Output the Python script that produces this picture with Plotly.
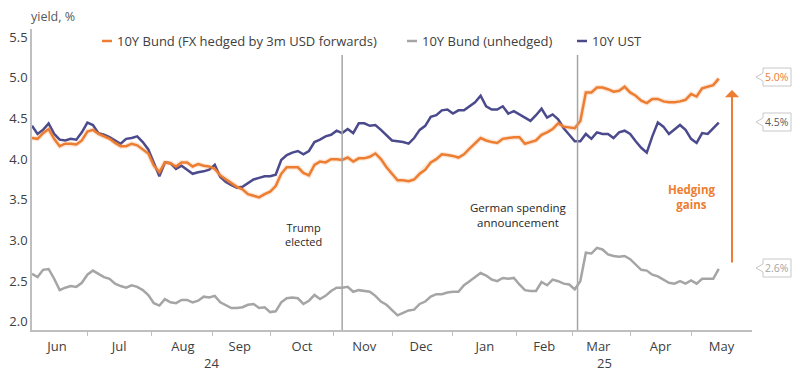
import pandas as pd
import plotly.graph_objects as go

# ---- data (every 2nd business day) ----
bund_hedged = [
    4.26, 4.25, 4.32, 4.37, 4.25, 4.16, 4.19, 4.19, 4.18, 4.23,
    4.34, 4.36, 4.31, 4.28, 4.25, 4.20, 4.16, 4.16, 4.19, 4.17,
    4.12, 4.07, 3.92, 3.84, 3.96, 3.95, 3.91, 3.96, 3.96, 3.91,
    3.94, 3.92, 3.91, 3.88, 3.80, 3.75, 3.70, 3.66, 3.63, 3.57,
    3.55, 3.53, 3.57, 3.60, 3.67, 3.82, 3.90, 3.90, 3.90, 3.83,
    3.80, 3.93, 3.97, 3.96, 4.00, 4.00, 3.99, 4.02, 3.97, 4.01,
    4.01, 4.03, 4.07, 4.00, 3.90, 3.82, 3.74, 3.74, 3.73, 3.75,
    3.82, 3.87, 3.96, 4.00, 4.06, 4.05, 4.04, 4.02, 4.06, 4.13,
    4.19, 4.26, 4.23, 4.21, 4.20, 4.25, 4.26, 4.27, 4.27, 4.19,
    4.21, 4.23, 4.30, 4.33, 4.37, 4.44, 4.40, 4.39, 4.38, 4.47,
    4.82, 4.82, 4.88, 4.88, 4.86, 4.83, 4.84, 4.89, 4.82, 4.78,
    4.72, 4.69, 4.74, 4.74, 4.71, 4.70, 4.70, 4.71, 4.73, 4.80,
    4.77, 4.87, 4.89, 4.91, 4.99,
]
bund_unhedged = [
    2.59, 2.55, 2.64, 2.65, 2.53, 2.39, 2.42, 2.44, 2.43, 2.48,
    2.58, 2.63, 2.59, 2.55, 2.53, 2.47, 2.44, 2.42, 2.45, 2.43,
    2.39, 2.33, 2.23, 2.20, 2.28, 2.24, 2.23, 2.27, 2.27, 2.24,
    2.26, 2.31, 2.30, 2.32, 2.24, 2.20, 2.17, 2.17, 2.18, 2.21,
    2.22, 2.17, 2.18, 2.12, 2.13, 2.24, 2.29, 2.30, 2.29, 2.22,
    2.26, 2.33, 2.28, 2.32, 2.38, 2.42, 2.42, 2.43, 2.37, 2.39,
    2.38, 2.37, 2.32, 2.25, 2.21, 2.15, 2.08, 2.11, 2.14, 2.15,
    2.22, 2.25, 2.31, 2.34, 2.34, 2.36, 2.37, 2.37, 2.45, 2.50,
    2.55, 2.60, 2.57, 2.52, 2.50, 2.54, 2.53, 2.54, 2.46, 2.39,
    2.38, 2.38, 2.49, 2.45, 2.52, 2.50, 2.47, 2.46, 2.40, 2.50,
    2.85, 2.84, 2.91, 2.89, 2.83, 2.81, 2.80, 2.81, 2.77, 2.71,
    2.64, 2.63, 2.58, 2.56, 2.52, 2.48, 2.47, 2.50, 2.47, 2.51,
    2.47, 2.53, 2.53, 2.53, 2.65,
]
ust = [
    4.41, 4.31, 4.36, 4.44, 4.31, 4.24, 4.23, 4.25, 4.24, 4.33,
    4.45, 4.42, 4.32, 4.30, 4.27, 4.23, 4.19, 4.25, 4.26, 4.28,
    4.21, 4.12, 3.95, 3.79, 3.96, 3.95, 3.88, 3.92, 3.87, 3.82,
    3.84, 3.85, 3.87, 3.93, 3.78, 3.72, 3.68, 3.65, 3.66, 3.71,
    3.75, 3.77, 3.79, 3.79, 3.81, 3.99, 4.05, 4.08, 4.10, 4.06,
    4.10, 4.21, 4.24, 4.28, 4.30, 4.35, 4.32, 4.37, 4.32, 4.44,
    4.44, 4.41, 4.42, 4.36, 4.29, 4.23, 4.22, 4.21, 4.19, 4.26,
    4.36, 4.41, 4.52, 4.54, 4.60, 4.61, 4.56, 4.60, 4.60, 4.65,
    4.70, 4.78, 4.65, 4.61, 4.61, 4.65, 4.56, 4.59, 4.55, 4.50,
    4.47, 4.54, 4.62, 4.51, 4.55, 4.49, 4.38, 4.30, 4.22, 4.22,
    4.31, 4.25, 4.33, 4.31, 4.31, 4.26, 4.33, 4.35, 4.31, 4.22,
    4.14, 4.08, 4.28, 4.45, 4.40, 4.31, 4.37, 4.42, 4.36, 4.25,
    4.20, 4.32, 4.31, 4.38, 4.45,
]
dates = pd.bdate_range("2024-06-03", "2025-05-30")[::2][:len(ust)]

series_names = ["10Y Bund (FX hedged by 3m USD forwards)", "10Y Bund (unhedged)", "10Y UST"]
end_labels = ["5.0%", "4.5%", "2.6%"]
event_dates = ["2024-11-06", "2025-03-05"]
event_texts = ["Trump<br>elected", "German spending<br>announcement"]
year_labels = ["24", "25"]

ORANGE = "#ED7D31"
GREY = "#A5A5A5"
NAVY = "#4B4A8C"
AXIS = "#BFBFBF"
TXT = "#404040"
FONT = "Open Sans"

# page offset: the page body has an 8px margin
OFF = 8
W, H = 800 - OFF, 384 - OFF
# plot-area pixel geometry on the page (x 32..752, y 29..330)
L, R, T, B = 32, 752, 29, 330
def px(x):
    return (x - L) / (R - L)
def py(y):
    return (B - y) / (B - T)

def label(x, y, text, size, color, xanchor="center", **kw):
    return dict(xref="paper", yref="paper", x=px(x), y=py(y), text=text, showarrow=False,
                xanchor=xanchor, yanchor="middle", font=dict(family=FONT, size=size, color=color), **kw)

LW = 2.5
fig = go.Figure()
fig.add_trace(go.Scatter(x=dates, y=bund_unhedged, mode="lines", name=series_names[1],
                         line=dict(color=GREY, width=LW), showlegend=False))
fig.add_trace(go.Scatter(x=dates, y=ust, mode="lines", name=series_names[2],
                         line=dict(color=NAVY, width=LW), showlegend=False))
fig.add_trace(go.Scatter(x=dates, y=bund_hedged, mode="lines", hoverinfo="skip",
                         line=dict(color="rgba(237,125,49,0.18)", width=5), showlegend=False))
fig.add_trace(go.Scatter(x=dates, y=bund_hedged, mode="lines", name=series_names[0],
                         line=dict(color=ORANGE, width=LW), showlegend=False))

shapes = []
annotations = []

# event lines
for d in event_dates:
    shapes.append(dict(type="line", xref="x", yref="paper", x0=d, x1=d, y0=0, y1=py(55),
                       line=dict(color=GREY, width=1.5)))
annotations.append(label(303, 234, event_texts[0], 11, "#262626", align="center"))
annotations.append(label(518, 215, event_texts[1], 11.5, "#262626", align="center"))

# custom legend
leg = [(102, ORANGE, series_names[0]), (407, GREY, series_names[1]), (577, NAVY, series_names[2])]
for x0, c, name in leg:
    shapes.append(dict(type="line", xref="paper", yref="paper", x0=px(x0), x1=px(x0 + 10),
                       y0=py(41), y1=py(41), line=dict(color=c, width=2.5)))
    annotations.append(label(x0 + 13, 41, name, 13, TXT, xanchor="left"))

# axis title
annotations.append(label(29, 17, "yield, %", 12.5, "#595959", xanchor="left"))

# year labels
annotations.append(label(211, 363, year_labels[0], 13, TXT))
annotations.append(label(604, 363, year_labels[1], 13, TXT))

# hedging gains arrow + text
annotations.append(dict(xref="paper", yref="paper", x=px(732), y=py(90), ax=0, ay=174,
                        axref="pixel", ayref="pixel", text="", showarrow=True,
                        arrowhead=1, arrowsize=1.2, arrowwidth=2, arrowcolor=ORANGE))
annotations.append(label(691, 197, "<b>Hedging<br>gains</b>", 11.5, ORANGE, align="center"))

# end-value callouts
callouts = [(77, ORANGE, end_labels[0]), (122, "#595959", end_labels[1]), (268, "#A5A5A5", end_labels[2])]
for cy, c, t in callouts:
    xl, xb, xr, h = 756, 763, 791, 9
    path = (f"M {px(xl)},{py(cy)} L {px(xb)},{py(cy-4)} L {px(xb)},{py(cy-h)} L {px(xr)},{py(cy-h)} "
            f"L {px(xr)},{py(cy+h)} L {px(xb)},{py(cy+h)} L {px(xb)},{py(cy+4)} Z")
    shapes.append(dict(type="path", xref="paper", yref="paper", path=path,
                       line=dict(color="#C8C8C8", width=1), fillcolor="white"))
    annotations.append(label((xb + xr) / 2, cy, t, 10.5, c))

fig.update_layout(
    width=W, height=H,
    margin=dict(l=L - OFF, r=800 - R, t=T - OFF, b=384 - B, autoexpand=False),
    paper_bgcolor="white", plot_bgcolor="white",
    font=dict(family=FONT, size=13, color=TXT),
    shapes=shapes, annotations=annotations,
    showlegend=False,
)
fig.update_xaxes(
    type="date", range=["2024-06-01", "2025-05-31"], automargin=False,
    rangebreaks=[dict(bounds=["sat", "mon"])],
    tick0="2024-06-01", dtick="M1", tickformat="%b", ticklabelmode="period",
    ticks="outside", ticklen=4, tickcolor=AXIS, showline=True, linecolor=AXIS, linewidth=1.5,
    showgrid=False, zeroline=False, tickfont=dict(family=FONT, size=13, color=TXT),
)
fig.update_yaxes(
    range=[1.9, 5.6], tick0=2.0, dtick=0.5, tickformat=".1f", automargin=False,
    showline=True, linecolor=AXIS, linewidth=1.5, ticks="", showgrid=False, zeroline=False,
    tickfont=dict(family=FONT, size=13, color=TXT),
)

fig.write_html("out.html")
